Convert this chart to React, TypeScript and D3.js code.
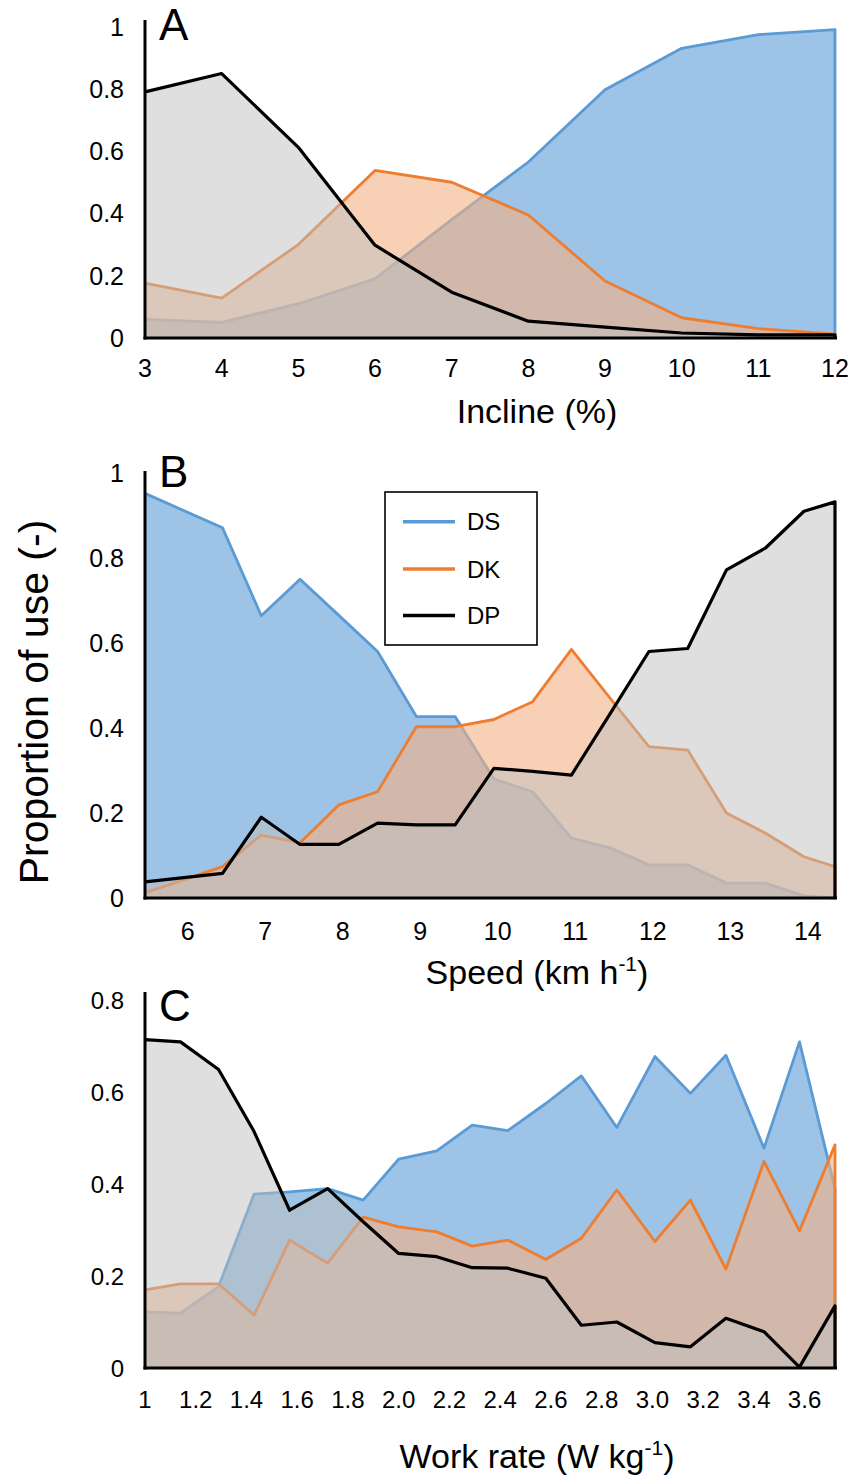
import React from "react";
import * as d3 from "d3";

// ---------- Data ----------
const inclineX = [3, 4, 5, 6, 7, 8, 9, 10, 11, 12];
const inclineDS = [0.06, 0.05, 0.11, 0.19, 0.38, 0.565, 0.797, 0.93, 0.974, 0.99];
const inclineDK = [0.176, 0.128, 0.3, 0.538, 0.5, 0.395, 0.183, 0.065, 0.03, 0.012];
const inclineDP = [0.79, 0.849, 0.612, 0.298, 0.147, 0.054, 0.035, 0.016, 0.01, 0.01];
const inclineTicks = [3, 4, 5, 6, 7, 8, 9, 10, 11, 12];

const speedX = [5.45, 6.45, 6.95, 7.45, 7.95, 8.45, 8.95, 9.45, 9.95, 10.45, 10.95, 11.45, 11.95, 12.45, 12.95, 13.45, 13.95, 14.35];
const speedDS = [0.952, 0.871, 0.664, 0.75, 0.665, 0.58, 0.427, 0.427, 0.28, 0.25, 0.141, 0.118, 0.078, 0.078, 0.035, 0.035, 0.005, 0];
const speedDK = [0.012, 0.074, 0.148, 0.13, 0.219, 0.25, 0.403, 0.403, 0.42, 0.462, 0.585, 0.47, 0.356, 0.348, 0.2, 0.153, 0.097, 0.074];
const speedDP = [0.038, 0.058, 0.19, 0.126, 0.126, 0.176, 0.172, 0.172, 0.305, 0.298, 0.289, 0.434, 0.58, 0.587, 0.772, 0.823, 0.91, 0.932];
const speedTicks = [6, 7, 8, 9, 10, 11, 12, 13, 14];

const workX = [1.0, 1.14, 1.29, 1.43, 1.57, 1.72, 1.86, 2.0, 2.15, 2.29, 2.43, 2.58, 2.72, 2.86, 3.01, 3.15, 3.29, 3.44, 3.58, 3.72];
const workDS = [0.122, 0.119, 0.177, 0.378, 0.383, 0.39, 0.365, 0.454, 0.472, 0.528, 0.516, 0.575, 0.635, 0.523, 0.677, 0.597, 0.68, 0.478, 0.709, 0.39];
const workDK = [0.17, 0.183, 0.183, 0.115, 0.278, 0.228, 0.328, 0.307, 0.296, 0.265, 0.278, 0.236, 0.282, 0.387, 0.275, 0.365, 0.215, 0.449, 0.298, 0.485];
const workDP = [0.714, 0.709, 0.649, 0.514, 0.343, 0.39, 0.318, 0.249, 0.242, 0.218, 0.217, 0.195, 0.093, 0.1, 0.055, 0.046, 0.108, 0.079, 0.002, 0.135];
const workTicks = [1, 1.2, 1.4, 1.6, 1.8, 2.0, 2.2, 2.4, 2.6, 2.8, 3.0, 3.2, 3.4, 3.6];
const workTickLabels = ["1", "1.2", "1.4", "1.6", "1.8", "2.0", "2.2", "2.4", "2.6", "2.8", "3.0", "3.2", "3.4", "3.6"];

const yTicksAB = [0, 0.2, 0.4, 0.6, 0.8, 1];
const yTicksC = [0, 0.2, 0.4, 0.6, 0.8];

const seriesNames = ["DS", "DK", "DP"];

// ---------- Styles ----------
const FONT = "'Liberation Sans', Arial, Helvetica, sans-serif";
const LINE_COLORS: Record<string, string> = { DS: "#5B9BD5", DK: "#ED7D31", DP: "#000000" };
const FILL_COLORS: Record<string, string> = { DS: "#5B9BD5", DK: "#F4B183", DP: "#BFBFBF" };
const FILL_OPACITY: Record<string, number> = { DS: 0.6, DK: 0.6, DP: 0.5 };
const LINE_WIDTH: Record<string, number> = { DS: 2.8, DK: 2.8, DP: 3.2 };

const X0 = 145;
const X1 = 835;

type PanelProps = {
  xs: number[];
  values: number[][];
  xDomain: [number, number];
  yMax: number;
  yTopPx: number;
  yZeroPx: number;
  axisTop: number;
  xTicks: number[];
  xTickLabels: string[];
  yTicks: number[];
  xTickBaseline: number;
  tickSize: number;
  letter: string;
  letterBaseline: number;
  title: React.ReactNode;
  titleBaseline: number;
};

function Panel(p: PanelProps) {
  const x = d3.scaleLinear().domain(p.xDomain).range([X0, X1]);
  const y = d3.scaleLinear().domain([0, p.yMax]).range([p.yZeroPx, p.yTopPx]);
  const area = d3
    .area<number>()
    .x((_, i) => x(p.xs[i]))
    .y0(y(0))
    .y1((d) => y(d));
  const line = d3
    .line<number>()
    .x((_, i) => x(p.xs[i]))
    .y((d) => y(d));
  const lastX = x(p.xs[p.xs.length - 1]);
  return (
    <g>
      {seriesNames.map((name, k) => (
        <g key={name}>
          <path d={area(p.values[k]) || ""} fill={FILL_COLORS[name]} fillOpacity={FILL_OPACITY[name]} stroke="none" />
          <path
            d={(line(p.values[k]) || "") + `L${lastX},${y(0)}`}
            fill="none"
            stroke={LINE_COLORS[name]}
            strokeWidth={LINE_WIDTH[name]}
            strokeLinejoin="round"
          />
        </g>
      ))}
      {/* axes */}
      <line x1={X0} x2={X0} y1={p.axisTop} y2={y(0) + 1.5} stroke="#000" strokeWidth={3} />
      <line x1={X0 - 1.5} x2={X1 + 2} y1={y(0)} y2={y(0)} stroke="#000" strokeWidth={3.2} />
      {p.yTicks.map((t) => (
        <text key={t} x={124} y={y(t)} dy="0.36em" textAnchor="end" fontSize={p.tickSize} fontFamily={FONT} fill="#000">
          {String(t)}
        </text>
      ))}
      {p.xTicks.map((t, i) => (
        <text key={t} x={x(t)} y={p.xTickBaseline} textAnchor="middle" fontSize={p.tickSize} fontFamily={FONT} fill="#000">
          {p.xTickLabels[i]}
        </text>
      ))}
      <text x={159} y={p.letterBaseline} fontSize={44} fontFamily={FONT} fill="#000">
        {p.letter}
      </text>
      <text x={537} y={p.titleBaseline} textAnchor="middle" fontSize={34} fontFamily={FONT} fill="#000">
        {p.title}
      </text>
    </g>
  );
}

function Legend() {
  const ys = [521.7, 569, 615.5];
  return (
    <g>
      <rect x={385} y={492} width={152} height={153} fill="#fff" stroke="#000" strokeWidth={1.6} />
      {seriesNames.map((name, i) => (
        <g key={name}>
          <line x1={403} x2={455} y1={ys[i]} y2={ys[i]} stroke={LINE_COLORS[name]} strokeWidth={3.5} />
          <text x={467} y={ys[i]} dy="0.36em" fontSize={24} fontFamily={FONT} fill="#000">
            {name}
          </text>
        </g>
      ))}
    </g>
  );
}

export default function App() {
  return (
    <svg
      width={856}
      height={1477}
      viewBox="0 0 856 1477"
      style={{ position: "absolute", left: 0, top: 0, background: "#fff" }}
    >
      <rect x={0} y={0} width={856} height={1477} fill="#fff" />
      <Panel
        xs={inclineX}
        values={[inclineDS, inclineDK, inclineDP]}
        xDomain={[3, 12]}
        yMax={1}
        yTopPx={26.5}
        yZeroPx={338}
        axisTop={20}
        xTicks={inclineTicks}
        xTickLabels={inclineTicks.map(String)}
        yTicks={yTicksAB}
        xTickBaseline={377}
        tickSize={25}
        letter="A"
        letterBaseline={40}
        title="Incline (%)"
        titleBaseline={423}
      />
      <Panel
        xs={speedX}
        values={[speedDS, speedDK, speedDP]}
        xDomain={[5.45, 14.35]}
        yMax={1}
        yTopPx={473}
        yZeroPx={898}
        axisTop={471}
        xTicks={speedTicks}
        xTickLabels={speedTicks.map(String)}
        yTicks={yTicksAB}
        xTickBaseline={940}
        tickSize={25}
        letter="B"
        letterBaseline={487}
        title={
          <>
            Speed (km h<tspan dy={-13} fontSize={21}>-1</tspan>
            <tspan dy={13}>)</tspan>
          </>
        }
        titleBaseline={984}
      />
      <Panel
        xs={workX}
        values={[workDS, workDK, workDP]}
        xDomain={[1, 3.72]}
        yMax={0.8}
        yTopPx={1000}
        yZeroPx={1368}
        axisTop={992}
        xTicks={workTicks}
        xTickLabels={workTickLabels}
        yTicks={yTicksC}
        xTickBaseline={1408}
        tickSize={24}
        letter="C"
        letterBaseline={1021}
        title={
          <>
            Work rate (W kg<tspan dy={-13} fontSize={21}>-1</tspan>
            <tspan dy={13}>)</tspan>
          </>
        }
        titleBaseline={1468}
      />
      <Legend />
      <text
        transform="translate(33,702) rotate(-90)"
        textAnchor="middle"
        dy="0.36em"
        fontSize={41}
        fontFamily={FONT}
        fill="#000"
      >
        Proportion of use (-)
      </text>
    </svg>
  );
}
